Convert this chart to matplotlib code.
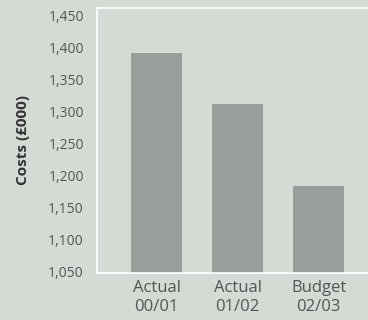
import matplotlib.pyplot as plt

categories = ["Actual\n00/01", "Actual\n01/02", "Budget\n02/03"]
costs = [1391, 1311, 1183]
tick_values = [1050, 1100, 1150, 1200, 1250, 1300, 1350, 1400, 1450]

bg = "#d4dad4"
bar_colour = "#989f9a"
text_colour = "#555555"

plt.rcParams["font.family"] = ["Open Sans", "DejaVu Sans"]

fig = plt.figure(figsize=(3.68, 3.2), dpi=100, facecolor=bg)
ax = fig.add_axes([0.2636, 0.147, 0.7364, 0.828], facecolor=bg)

x = range(len(costs))
ax.bar(x, costs, width=0.63, color=bar_colour, zorder=2)

ax.set_xlim(-0.735, 2.61)
ax.set_ylim(1047, 1461)

ax.set_yticks(tick_values)
ax.set_yticklabels([f"{v:,}" for v in tick_values], color=text_colour, fontsize=10)
ax.tick_params(axis="y", length=0, pad=9.5)
# short white ticks only on the inner values
ax.set_yticks(tick_values[1:-1], minor=True)
ax.tick_params(axis="y", which="minor", direction="in", length=6, width=1, color="white")

ax.set_xticks(list(x))
ax.set_xticklabels(categories, color=text_colour, fontsize=12, linespacing=1.25)
ax.tick_params(axis="x", length=0, pad=5)

for side in ["left", "top", "bottom"]:
    ax.spines[side].set_color("white")
    ax.spines[side].set_linewidth(1.2)
ax.spines["right"].set_visible(False)

ax.set_ylabel("Costs (£000)", fontsize=11, fontweight="bold", color="#333333", labelpad=13)

fig.savefig("out.png", dpi=100, facecolor=bg)
